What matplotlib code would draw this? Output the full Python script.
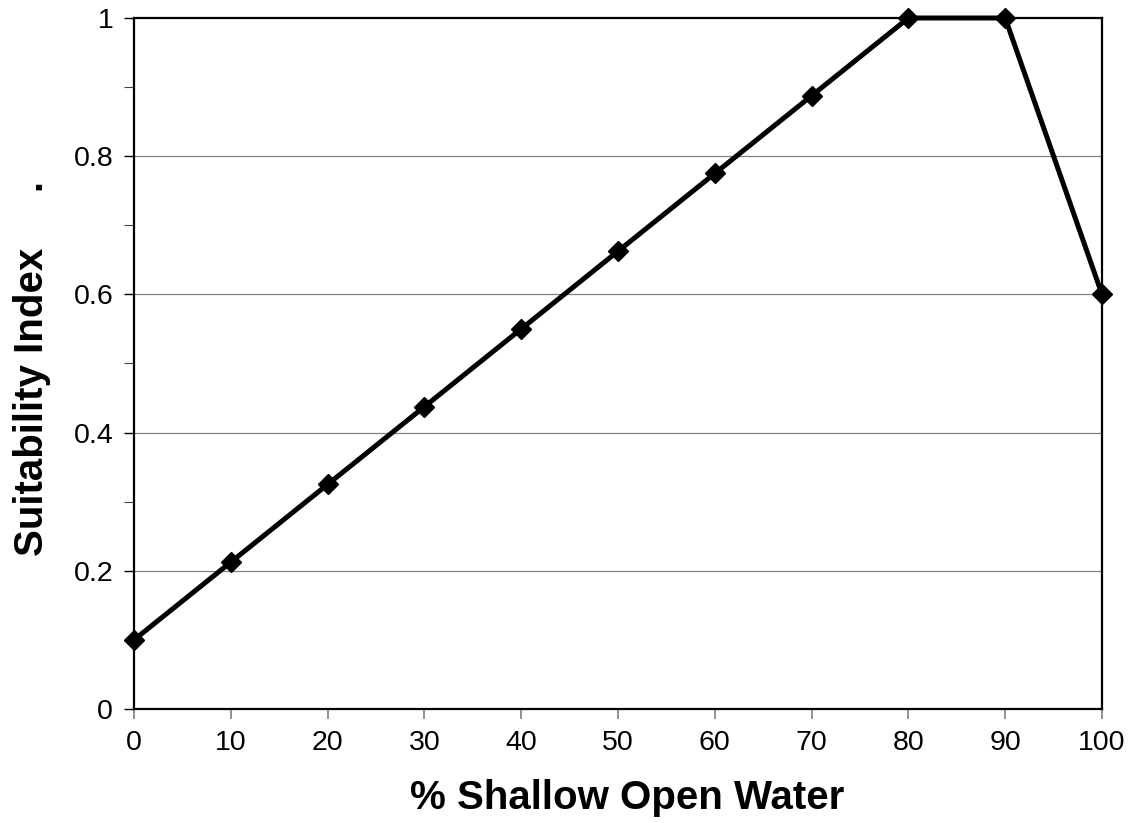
import matplotlib
matplotlib.use("Agg")
import matplotlib.pyplot as plt
from matplotlib.ticker import MultipleLocator

pct_open_water = [0, 10, 20, 30, 40, 50, 60, 70, 80, 90, 100]
suitability = [0.1, 0.2125, 0.325, 0.4375, 0.55, 0.6625, 0.775, 0.8875, 1.0, 1.0, 0.6]
x_ticks = [0, 10, 20, 30, 40, 50, 60, 70, 80, 90, 100]
y_ticks = [0, 0.2, 0.4, 0.6, 0.8, 1]
y_ticklabels = ["0", "0.2", "0.4", "0.6", "0.8", "1"]

plt.rcParams['font.family'] = ['Liberation Sans', 'DejaVu Sans']

fig = plt.figure(figsize=(11.32, 8.23), dpi=100)
ax = fig.add_axes([134/1132, 1 - 709/823, (1102-134)/1132, (709-18)/823])

for y in [0.2, 0.4, 0.6, 0.8]:
    ax.axhline(y, color='#808080', lw=0.9, zorder=1)

ax.plot(pct_open_water, suitability, color='black', lw=3.6, marker='D',
        markersize=10.5, markerfacecolor='black', markeredgecolor='black',
        clip_on=False, zorder=3)

ax.set_xlim(0, 100)
ax.set_ylim(0, 1)
ax.set_xticks(x_ticks)
ax.set_xticklabels([str(v) for v in x_ticks])
ax.set_yticks(y_ticks)
ax.set_yticklabels(y_ticklabels)
ax.yaxis.set_minor_locator(MultipleLocator(0.1))

for s in ax.spines.values():
    s.set_linewidth(1.6)
    s.set_color('black')

ax.tick_params(axis='x', which='major', direction='out', length=7, width=1.2,
               color='#808080', labelsize=20.5, pad=8)
ax.tick_params(axis='y', which='major', direction='out', length=7, width=1.0,
               color='black', labelsize=20.5, pad=8)
ax.tick_params(axis='y', which='minor', direction='out', length=7, width=0.8,
               color='#404040')

ax.set_xlabel('% Shallow Open Water', fontsize=29, fontweight='bold', labelpad=17)
ax.xaxis.label.set_x(0.5 + 9/968)
ax.set_ylabel('Suitability Index     .', fontsize=29, fontweight='bold', labelpad=16)
ax.yaxis.label.set_y(0.5 - 5/691)

fig.savefig('out.png', dpi=100)
